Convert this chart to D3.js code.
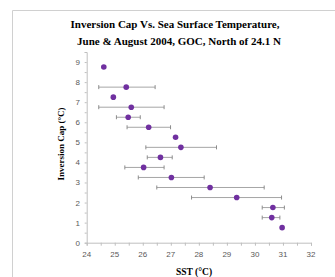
<!DOCTYPE html>
<html lang="en">
<head>
<meta charset="UTF-8">
<script src="https://d3js.org/d3.v7.min.js"></script>
<title>inversion_cap</title>
<style>
body { margin: 0; background: #fff; }
</style>
</head>
<body>
<script type="text/javascript">

var sst    = [24.61, 25.41, 24.95, 25.59, 25.48, 26.21, 27.17, 27.36, 26.63, 26.03, 27.02, 28.40, 29.35, 30.64, 30.60, 30.97];
var cap    = [8.75, 7.75, 7.25, 6.75, 6.25, 5.75, 5.25, 4.75, 4.25, 3.75, 3.25, 2.75, 2.25, 1.75, 1.25, 0.75];
var errLo  = [null, 24.43, null, 24.43, 25.06, 25.44, null, 26.11, 26.16, 25.36, 25.84, 26.50, 27.74, 30.26, 30.26, null];
var errHi  = [null, 26.44, null, 26.76, 25.91, 26.99, null, 28.63, 27.05, 26.76, 28.19, 30.33, 30.95, 31.05, 30.89, null];
var xTicks = [24, 25, 26, 27, 28, 29, 30, 31, 32];
var yTicks = [0, 1, 2, 3, 4, 5, 6, 7, 8, 9];

var width = 335, height = 277;
var plotL = 86.7, plotR = 311, plotT = 52, plotB = 242.7;

var svg = d3.select("body").append("svg").attr("width", width).attr("height", height);

// outer frame (cut off at right and bottom)
svg.append("path")
  .attr("d", "M12.5," + height + "V10.5H" + width)
  .attr("fill", "none").attr("stroke", "#d0d0d0").attr("stroke-width", 1);

var x = d3.scaleLinear().domain([24, 32]).range([plotL, plotR]);
var y = d3.scaleLinear().domain([0, 9.5]).range([plotB, plotT]);

var grey = "#bfbfbf";

// axes
var xAxis = svg.append("g").attr("transform", "translate(0," + plotB + ")")
  .call(d3.axisBottom(x).tickValues(d3.range(24, 32.01, 0.5)).tickSize(3).tickFormat(""));
var yAxis = svg.append("g").attr("transform", "translate(" + plotL + ",0)")
  .call(d3.axisLeft(y).tickValues(d3.range(0, 9.51, 0.5)).tickSize(2).tickFormat(""));
[xAxis, yAxis].forEach(function(a) {
  a.selectAll("path, line").attr("stroke", grey);
});

svg.selectAll(".xl").data(xTicks).enter().append("text")
  .attr("x", function(d) { return x(d); })
  .attr("y", plotB + 14)
  .attr("text-anchor", "middle")
  .attr("font-family", "Liberation Sans, sans-serif").attr("font-size", 8)
  .attr("fill", "#595959")
  .text(function(d) { return d; });

svg.selectAll(".yl").data(yTicks).enter().append("text")
  .attr("x", plotL - 9)
  .attr("y", function(d) { return y(d) + 3; })
  .attr("text-anchor", "middle")
  .attr("font-family", "Liberation Sans, sans-serif").attr("font-size", 8)
  .attr("fill", "#595959")
  .text(function(d) { return d; });

// error bars
var data = sst.map(function(s, i) { return { s: s, c: cap[i], lo: errLo[i], hi: errHi[i] }; });
var eb = data.filter(function(d) { return d.lo !== null; });

svg.selectAll(".eb").data(eb).enter().append("line")
  .attr("x1", function(d) { return x(d.lo); })
  .attr("x2", function(d) { return x(d.hi); })
  .attr("y1", function(d) { return y(d.c); })
  .attr("y2", function(d) { return y(d.c); })
  .attr("stroke", "#a6a6a6").attr("stroke-width", 1);

["lo", "hi"].forEach(function(k) {
  svg.selectAll(".cap" + k).data(eb).enter().append("line")
    .attr("x1", function(d) { return x(d[k]); })
    .attr("x2", function(d) { return x(d[k]); })
    .attr("y1", function(d) { return y(d.c) - 2; })
    .attr("y2", function(d) { return y(d.c) + 2; })
    .attr("stroke", "#8c8c8c").attr("stroke-width", 1);
});

svg.selectAll(".pt").data(data).enter().append("circle")
  .attr("cx", function(d) { return x(d.s); })
  .attr("cy", function(d) { return y(d.c); })
  .attr("r", 2.8)
  .attr("fill", "#7030a0");

// titles
var serif = "Liberation Serif, Times New Roman, serif";
svg.append("text").attr("x", 175).attr("y", 28).attr("text-anchor", "middle")
  .attr("font-family", serif).attr("font-weight", "bold").attr("font-size", 11)
  .text("Inversion Cap Vs. Sea Surface Temperature,");
svg.append("text").attr("x", 179).attr("y", 45).attr("text-anchor", "middle")
  .attr("font-family", serif).attr("font-weight", "bold").attr("font-size", 11)
  .text("June & August 2004, GOC, North of 24.1 N");

svg.append("text").attr("x", 194).attr("y", 275).attr("text-anchor", "middle")
  .attr("font-family", serif).attr("font-weight", "bold").attr("font-size", 9.5)
  .text("SST (\u00B0C)");

svg.append("text")
  .attr("transform", "translate(64,144) rotate(-90)")
  .attr("text-anchor", "middle")
  .attr("font-family", serif).attr("font-weight", "bold").attr("font-size", 9)
  .text("Inversion  Cap (\u00B0C)");

</script>
</body>
</html>
